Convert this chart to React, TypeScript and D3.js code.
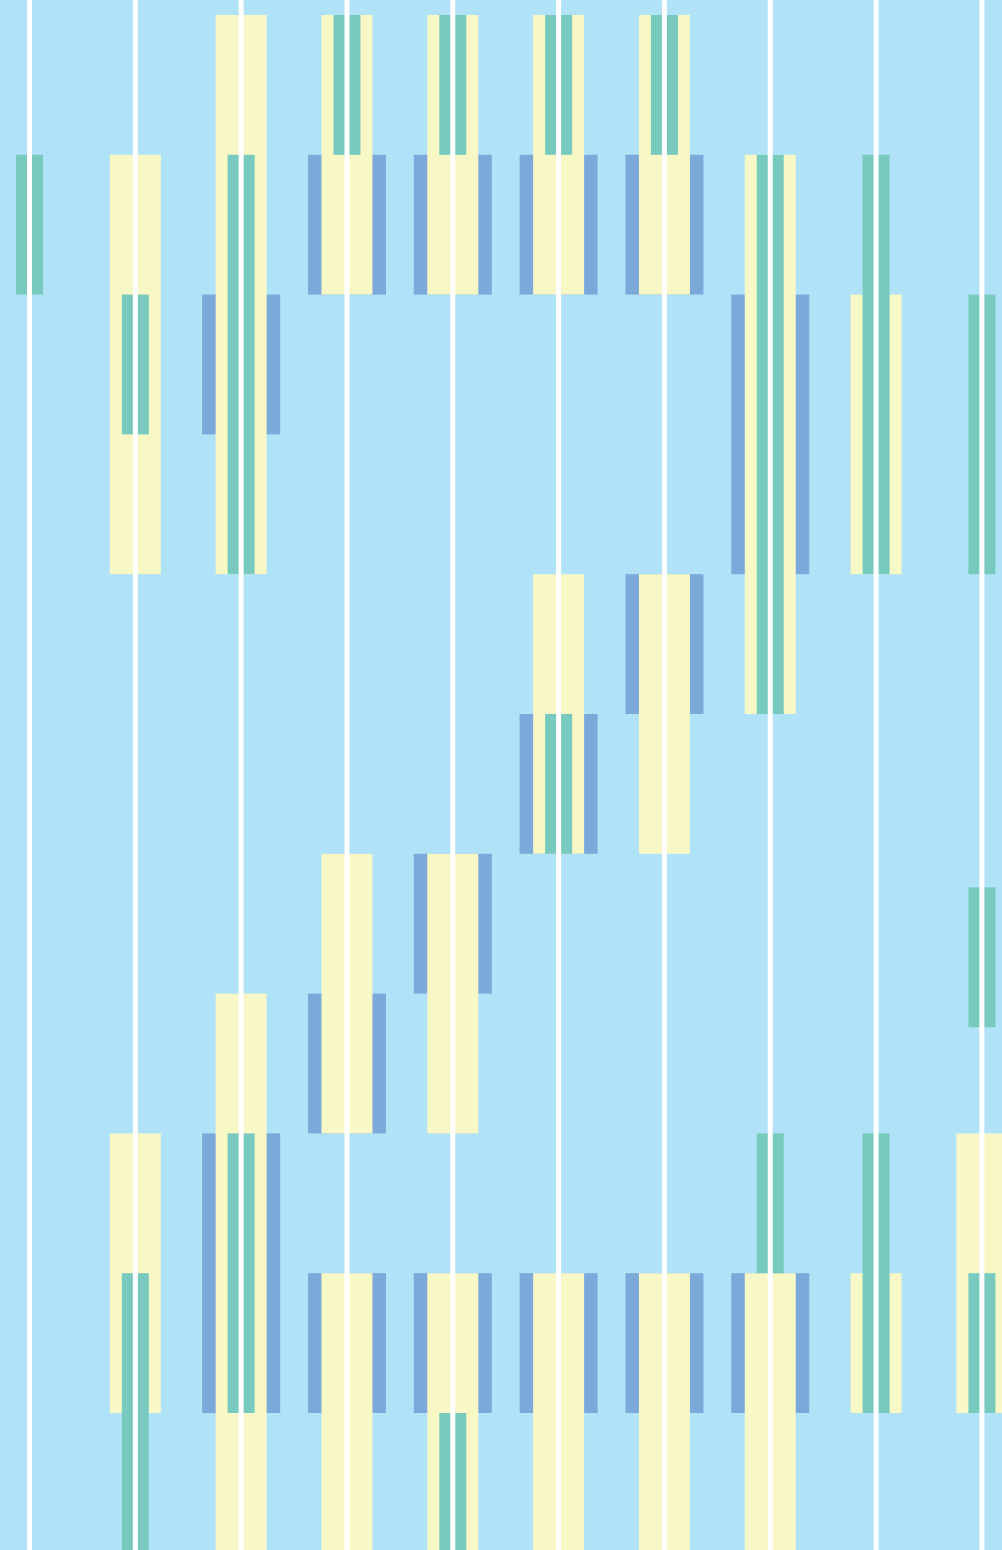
import React from "react";
import * as d3 from "d3";

const WIDTH = 1002;
const HEIGHT = 1550;

const columns = [0, 1, 2, 3, 4, 5, 6, 7, 8, 9];

// [column, startRow, endRow]
const blueBars: [number, number, number][] = [
  [2, 2, 3], [2, 8, 10],
  [3, 1, 2], [3, 7, 8], [3, 9, 10],
  [4, 1, 2], [4, 6, 7], [4, 9, 10],
  [5, 1, 2], [5, 5, 6], [5, 9, 10],
  [6, 1, 2], [6, 4, 5], [6, 9, 10],
  [7, 2, 4], [7, 9, 10],
];

const yellowBars: [number, number, number][] = [
  [1, 1, 4], [1, 8, 10],
  [2, 0, 4], [2, 7, 11],
  [3, 0, 2], [3, 6, 8], [3, 9, 11],
  [4, 0, 2], [4, 6, 8], [4, 9, 11],
  [5, 0, 2], [5, 4, 6], [5, 9, 11],
  [6, 0, 2], [6, 4, 6], [6, 9, 11],
  [7, 1, 5], [7, 9, 11],
  [8, 2, 4], [8, 9, 10],
  [9, 8, 10],
];

const greenBars: [number, number, number][] = [
  [0, 1, 2],
  [1, 2, 3], [1, 9, 11],
  [2, 1, 4], [2, 8, 10],
  [3, 0, 1],
  [4, 0, 1], [4, 10, 11],
  [5, 0, 1], [5, 5, 6],
  [6, 0, 1],
  [7, 1, 5], [7, 8, 9],
  [8, 1, 4], [8, 8, 10],
  [9, 2, 4], [9, 6.24, 7.24], [9, 9, 10],
];

const x = d3.scaleLinear().domain([0, 9]).range([29.5, 981.9]);
const y = d3.scaleLinear().domain([0, 11]).range([15, 15 + 139.8 * 11]);

const series = [
  { data: blueBars, width: 78, color: "#7ba9da" },
  { data: yellowBars, width: 51, color: "#f8f7c6" },
  { data: greenBars, width: 27, color: "#78cabe" },
];

export default function App() {
  return (
    <svg
      width={WIDTH}
      height={HEIGHT}
      style={{ position: "absolute", top: 0, left: 0, display: "block" }}
    >
      <rect x={0} y={0} width={WIDTH} height={HEIGHT} fill="#b0e2f8" />
      {series.map((s, si) => (
        <g key={si}>
          {s.data.map(([c, a, b], i) => (
            <rect
              key={i}
              x={x(c) - s.width / 2}
              y={y(a)}
              width={s.width}
              height={y(b) - y(a)}
              fill={s.color}
            />
          ))}
        </g>
      ))}
      {columns.map((c) => (
        <rect key={c} x={x(c) - 2.5} y={0} width={5} height={HEIGHT} fill="#ffffff" />
      ))}
    </svg>
  );
}
